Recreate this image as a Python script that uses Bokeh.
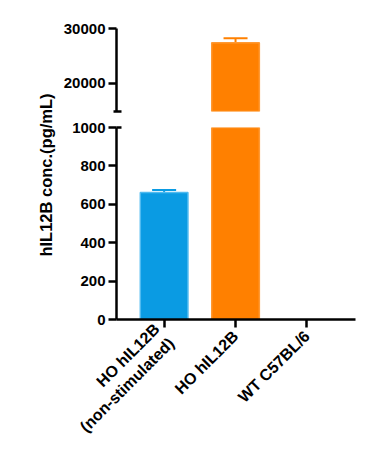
from math import pi
from bokeh.plotting import figure
from bokeh.models import Range1d, FixedTicker, ColumnDataSource, Whisker, TeeHead
from bokeh.layouts import row, column
from bokeh.core.properties import value
from bokeh.embed import file_html
from bokeh.resources import INLINE

# ---- data ----
categories = ["HO hIL12B\n(non-stimulated)", "HO hIL12B", "WT C57BL/6"]
means = [661, 27400, 0]
errors = [14, 840, 0]
bar_colors = ["#0a9be3", "#ff8000", "#888888"]
edge_colors = ["#4fbaf0", "#ff9933", "#888888"]
lower_ticks = [0, 200, 400, 600, 800, 1000]
upper_ticks = [20000, 30000]
lower_limits = (0, 1000)
upper_limits = (14900, 30000)
y_label = "hIL12B conc.(pg/mL)"

FONT = "Liberation Sans"
xs = list(range(1, len(categories) + 1))
x_range = Range1d(0.333, 3.68)


def style_y(p, ticks, minor, tin, tout):
    ax = p.yaxis[0]
    ax.ticker = FixedTicker(ticks=ticks, minor_ticks=minor)
    ax.axis_line_width = 2.5
    ax.major_tick_line_width = 2.5
    ax.minor_tick_line_width = 2.5
    ax.major_tick_out = 8
    ax.major_tick_in = 0
    ax.minor_tick_in = tin
    ax.minor_tick_out = tout
    ax.major_label_text_font = FONT
    ax.major_label_text_font_style = "bold"
    ax.major_label_text_font_size = "15px"
    ax.major_label_text_color = "black"
    ax.major_label_standoff = 3


def add_bars(p, lo, hi):
    keep = [i for i, m in enumerate(means) if m > lo]
    src = ColumnDataSource(dict(x=[xs[i] for i in keep],
                                top=[means[i] for i in keep],
                                fill=[bar_colors[i] for i in keep],
                                edge=[edge_colors[i] for i in keep]))
    p.vbar(x="x", top="top", bottom=0, width=0.667, source=src,
           fill_color="fill", line_color="edge", line_width=1.5)
    for x, m, e, c in zip(xs, means, errors, bar_colors):
        if e > 0 and lo <= m <= hi:
            ws = ColumnDataSource(dict(base=[x], lower=[m], upper=[m + e]))
            w = Whisker(base="base", lower="lower", upper="upper", source=ws,
                        line_color=c, line_width=2,
                        upper_head=TeeHead(size=24, line_color=c, line_width=2),
                        lower_head=None)
            p.add_layout(w)


common = dict(output_backend="svg", toolbar_location=None, x_range=x_range,
              min_border_left=53, min_border_right=24,
              background_fill_color="white", border_fill_color="white")

# top (broken) segment
top = figure(width=319, height=119, y_range=Range1d(*upper_limits),
             x_axis_type=None, min_border_top=28, min_border_bottom=8, **common)
top.outline_line_color = None
top.grid.visible = False
add_bars(top, *upper_limits)
style_y(top, upper_ticks, [upper_limits[0]], 5, 3)
top.yaxis[0].bounds = upper_limits

# bottom segment
bot = figure(width=319, height=332, y_range=Range1d(*lower_limits),
             min_border_top=8, min_border_bottom=130, **common)
bot.outline_line_color = None
bot.grid.visible = False
add_bars(bot, *lower_limits)
style_y(bot, lower_ticks, [lower_limits[1]], 5, 0)
xa = bot.xaxis[0]
xa.ticker = FixedTicker(ticks=xs, minor_ticks=[])
xa.major_label_overrides = {x: c for x, c in zip(xs, categories)}
xa.major_label_orientation = pi / 4
xa.axis_line_width = 2.5
xa.major_tick_line_width = 2.5
xa.major_tick_out = 8
xa.major_tick_in = 0
xa.minor_tick_out = 0
xa.minor_tick_in = 0
xa.major_label_text_font = FONT
xa.major_label_text_font_style = "bold"
xa.major_label_text_font_size = "16px"
xa.major_label_text_color = "black"
xa.major_label_standoff = 6

# y-axis title panel
lab = figure(width=60, height=451, output_backend="svg", toolbar_location=None,
             x_range=Range1d(-45, 15), y_range=Range1d(-1, 1),
             min_border_left=0, min_border_right=0,
             min_border_top=28, min_border_bottom=130,
             x_axis_type=None, y_axis_type=None)
lab.outline_line_color = None
lab.grid.visible = False
lab.text(x=[0], y=[0], text=[y_label], angle=pi / 2,
         text_align="center", text_baseline="middle",
         text_font=value(FONT), text_font_style="bold",
         text_font_size="16.5px", text_color="black")

layout = row(lab, column(top, bot, spacing=0), spacing=0)

open("out.html", "w").write(file_html(layout, INLINE))
